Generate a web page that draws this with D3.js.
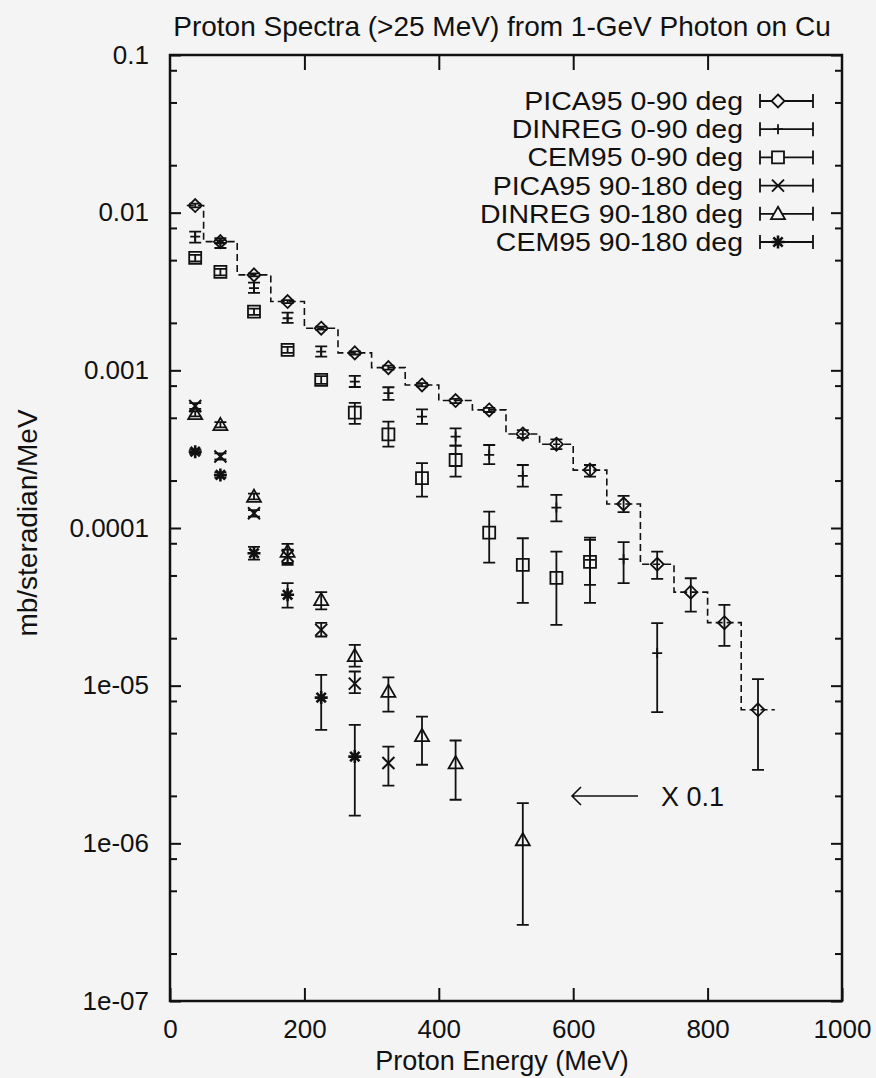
<!DOCTYPE html>
<html>
<head>
<meta charset="utf-8">
<script src="https://cdn.jsdelivr.net/npm/d3@7/dist/d3.min.js"></script>
<style>
    body { margin: 0; background: #f4f4f4; }
    svg { display: block; font-family: "Liberation Sans", Arial, sans-serif; }
</style>
</head>
<body>
<div id="chart"></div>
<script>
// bin centres and edges (MeV)
const energies = [37.5, 75, 125, 175, 225, 275, 325, 375, 425, 475, 525, 575, 625, 675, 725, 775, 825, 875];
const binEdges = [25, 50, 100, 150, 200, 250, 300, 350, 400, 450, 500, 550, 600, 650, 700, 750, 800, 850, 900];

// 0-90 deg
const pica0 = [0.0111, 0.00655, 0.00403, 0.00273, 0.00185, 0.00129, 0.00104, 0.000808, 0.000643, 0.000561, 0.000395, 0.000340, 0.000233, 0.000142, 5.89e-5, 3.92e-5, 2.51e-5, 7.03e-6];
const pica0Hi = [0.0114, 0.0067, 0.00412, 0.00279, 0.00189, 0.00132, 0.00107, 0.00083, 0.00066, 0.000578, 0.000418, 0.000365, 0.000251, 0.000160, 7.08e-5, 4.8e-5, 3.25e-5, 1.1e-5];
const pica0Lo = [0.0108, 0.0064, 0.00394, 0.00267, 0.00181, 0.00126, 0.00101, 0.00079, 0.00062, 0.000544, 0.000373, 0.000316, 0.000212, 0.000126, 4.75e-5, 2.95e-5, 1.79e-5, 2.92e-6];

const dinreg0 = [0.00705, 0.00642, 0.00332, 0.00214, 0.001314, 0.000848, 0.000716, 0.000509, 0.00038, 0.000291, 0.000214, 0.0001347, 6.28e-5, 6.34e-5, 1.61e-5];
const dinreg0Hi = [0.00758, 0.00689, 0.0036, 0.00232, 0.001418, 0.000922, 0.000781, 0.000565, 0.000429, 0.000336, 0.000251, 0.000162, 8.4e-5, 8.13e-5, 2.49e-5];
const dinreg0Lo = [0.00645, 0.00597, 0.0031, 0.002, 0.00122, 0.000784, 0.000649, 0.000458, 0.000333, 0.000254, 0.000183, 0.00011, 4.36e-5, 4.47e-5, 6.79e-6];

const cem0 = [0.00516, 0.00421, 0.002357, 0.001347, 0.000869, 0.00054, 0.000393, 0.000207, 0.00027, 9.35e-5, 5.83e-5, 4.83e-5, 6.1e-5];
const cem0Hi = [0.0054, 0.0044, 0.00246, 0.00141, 0.00092, 0.000621, 0.000473, 0.000258, 0.000333, 0.000127, 8.61e-5, 7.08e-5, 8.69e-5];
const cem0Lo = [0.0049, 0.0040, 0.00225, 0.00129, 0.00082, 0.000457, 0.000328, 0.000158, 0.000212, 6.03e-5, 3.35e-5, 2.43e-5, 3.35e-5];

// 90-180 deg, plotted x 0.1
const pica90 = [5.94e-4, 2.84e-4, 1.24e-4, 6.65e-5, 2.26e-5, 1.03e-5, 3.23e-6];
const pica90Hi = [6.2e-4, 2.97e-4, 1.3e-4, 7.3e-5, 2.5e-5, 1.23e-5, 4.11e-6];
const pica90Lo = [5.7e-4, 2.72e-4, 1.18e-4, 6.0e-5, 2.05e-5, 8.96e-6, 2.32e-6];

const dinreg90X = [37.5, 75, 125, 175, 225, 275, 325, 375, 425, 525];
const dinreg90 = [5.29e-4, 4.51e-4, 1.58e-4, 7.08e-5, 3.5e-5, 1.545e-5, 9.17e-6, 4.81e-6, 3.23e-6, 1.05e-6];
const dinreg90Hi = [5.5e-4, 4.7e-4, 1.65e-4, 7.93e-5, 3.92e-5, 1.815e-5, 1.13e-5, 6.37e-6, 4.49e-6, 1.8e-6];
const dinreg90Lo = [5.1e-4, 4.35e-4, 1.52e-4, 5.83e-5, 3.05e-5, 1.32e-5, 6.85e-6, 3.15e-6, 1.89e-6, 3.04e-7];

const cem90 = [3.05e-4, 2.17e-4, 6.92e-5, 3.77e-5, 8.4e-6, 3.55e-6];
const cem90Hi = [3.15e-4, 2.25e-4, 7.6e-5, 4.47e-5, 1.17e-5, 5.64e-6];
const cem90Lo = [2.95e-4, 2.09e-4, 6.3e-5, 3.13e-5, 5.24e-6, 1.5e-6];

const legendLabels = ["PICA95 0-90 deg", "DINREG 0-90 deg", "CEM95 0-90 deg", "PICA95 90-180 deg", "DINREG 90-180 deg", "CEM95 90-180 deg"];
const markers = ["diamond", "plus", "square", "cross", "triangle", "star"];

const xTicks = [0, 200, 400, 600, 800, 1000];
const yTicks = [0.1, 0.01, 0.001, 0.0001, 1e-5, 1e-6, 1e-7];
const yTickLabels = ["0.1", "0.01", "0.001", "0.0001", "1e-05", "1e-06", "1e-07"];

const W = 876, H = 1078;
const ink = "#111";

let series = [
    {x: energies, y: pica0, lo: pica0Lo, hi: pica0Hi},
    {x: energies, y: dinreg0, lo: dinreg0Lo, hi: dinreg0Hi},
    {x: energies, y: cem0, lo: cem0Lo, hi: cem0Hi},
    {x: energies, y: pica90, lo: pica90Lo, hi: pica90Hi},
    {x: dinreg90X, y: dinreg90, lo: dinreg90Lo, hi: dinreg90Hi},
    {x: energies, y: cem90, lo: cem90Lo, hi: cem90Hi}
].map(function(s){
    return s.y.map(function(v, j){
        return {x: s.x[j], y: v, lo: s.lo[j], hi: s.hi[j]};
    });
});

const x = d3.scaleLinear().domain([0, 1000]).range([170, 842]);
const y = d3.scaleLog().domain([1e-7, 0.1]).range([1001, 55]);

const markerPath = {
    diamond: s => `M0,${-s}L${s},0L0,${s}L${-s},0Z`,
    plus: s => `M${-s},0H${s}M0,${-s}V${s}`,
    square: s => `M${-s},${-s}H${s}V${s}H${-s}Z`,
    cross: s => `M${-s},${-s}L${s},${s}M${-s},${s}L${s},${-s}`,
    triangle: s => `M0,${-s}L${s},${s * 0.75}L${-s},${s * 0.75}Z`,
    star: s => `M${-s},0H${s}M0,${-s}V${s}M${-s * 0.72},${-s * 0.72}L${s * 0.72},${s * 0.72}M${-s * 0.72},${s * 0.72}L${s * 0.72},${-s * 0.72}`
};
const markerSize = {diamond: 6.5, plus: 5, square: 6, cross: 6, triangle: 7, star: 6.5};
const markerWidth = {diamond: 1.8, plus: 1.8, square: 1.8, cross: 2, triangle: 1.8, star: 2.6};

const svg = d3.select("#chart").append("svg")
    .attr("width", W)
    .attr("height", H);

svg.append("rect").attr("width", W).attr("height", H).attr("fill", "#f4f4f4");

// minor log ticks at 2, 5, 8 of every decade
let minorTicks = [];
yTicks.slice(1).forEach(function(d){
    [2, 5, 8].forEach(function(m){ minorTicks.push(d * m); });
});

function styleAxis(g, size){
    g.attr("font-family", "'Liberation Sans', Arial, sans-serif")
        .attr("font-size", size);
    g.select(".domain").remove();
    g.selectAll(".tick line").attr("stroke", ink).attr("stroke-width", 2);
    g.selectAll(".tick text").attr("fill", ink);
}

svg.append("g")
    .attr("transform", "translate(0," + y.range()[0] + ")")
    .call(d3.axisBottom(x).tickValues(xTicks).tickSizeInner(-13).tickSizeOuter(0).tickPadding(19).tickFormat(d3.format("d")))
    .call(styleAxis, 26);

svg.append("g")
    .attr("transform", "translate(0," + y.range()[1] + ")")
    .call(d3.axisTop(x).tickValues(xTicks.slice(1, -1)).tickSizeInner(-15).tickSizeOuter(0).tickFormat(""))
    .call(styleAxis, 26);

svg.append("g")
    .attr("transform", "translate(" + x.range()[0] + ",0)")
    .call(d3.axisLeft(y).tickValues(yTicks).tickSizeInner(-11).tickSizeOuter(0).tickPadding(21).tickFormat((d, i) => yTickLabels[i]))
    .call(styleAxis, 26);

svg.append("g")
    .attr("transform", "translate(" + x.range()[0] + ",0)")
    .call(d3.axisLeft(y).tickValues(minorTicks).tickSizeInner(-7).tickSizeOuter(0).tickFormat(""))
    .call(styleAxis, 26);

svg.append("g")
    .attr("transform", "translate(" + x.range()[1] + ",0)")
    .call(d3.axisRight(y).tickValues(yTicks).tickSizeInner(-11).tickSizeOuter(0).tickFormat(""))
    .call(styleAxis, 26);

svg.append("g")
    .attr("transform", "translate(" + x.range()[1] + ",0)")
    .call(d3.axisRight(y).tickValues(minorTicks).tickSizeInner(-7).tickSizeOuter(0).tickFormat(""))
    .call(styleAxis, 26);

// frame
svg.append("rect")
    .attr("x", x.range()[0])
    .attr("y", y.range()[1])
    .attr("width", x.range()[1] - x.range()[0])
    .attr("height", y.range()[0] - y.range()[1])
    .attr("fill", "none")
    .attr("stroke", ink)
    .attr("stroke-width", 2.5);

// dashed histogram of PICA95 0-90
let stepPts = [];
pica0.forEach(function(v, i){
    stepPts.push([binEdges[i], v]);
    stepPts.push([binEdges[i + 1], v]);
});
svg.append("path")
    .attr("d", d3.line().x(d => x(d[0])).y(d => y(d[1]))(stepPts))
    .attr("fill", "none")
    .attr("stroke", ink)
    .attr("stroke-width", 1.6)
    .attr("stroke-dasharray", "7,4");

const cap = 6;

series.forEach(function(pts, i){
    let g = svg.append("g");
    let m = markers[i];

    g.selectAll("path.err")
        .data(pts)
        .enter().append("path")
        .attr("class", "err")
        .attr("d", d => `M${x(d.x)},${y(d.hi)}V${y(d.lo)}M${x(d.x) - cap},${y(d.hi)}h${2 * cap}M${x(d.x) - cap},${y(d.lo)}h${2 * cap}`)
        .attr("fill", "none")
        .attr("stroke", ink)
        .attr("stroke-width", 1.8);

    g.selectAll("path.pt")
        .data(pts)
        .enter().append("path")
        .attr("class", "pt")
        .attr("transform", d => "translate(" + x(d.x) + "," + y(d.y) + ")")
        .attr("d", markerPath[m](markerSize[m]))
        .attr("fill", "none")
        .attr("stroke", ink)
        .attr("stroke-width", markerWidth[m]);
});

// legend: rows are packed tightly, so glyphs are widened instead of enlarged
let legend = svg.append("g").attr("transform", "translate(0,101)");
legendLabels.forEach(function(label, i){
    let row = legend.append("g").attr("transform", "translate(0," + (i * 28.2) + ")");
    let t = row.append("text")
        .attr("x", 743)
        .attr("y", 9)
        .attr("text-anchor", "end")
        .attr("font-size", 25)
        .attr("fill", ink)
        .text(label);
    let len = t.node().getComputedTextLength();
    t.attr("textLength", len * 1.14).attr("lengthAdjust", "spacingAndGlyphs");
    row.append("path")
        .attr("d", "M760,0H813M760,-7V7M813,-7V7")
        .attr("fill", "none")
        .attr("stroke", ink)
        .attr("stroke-width", 1.8);
    row.append("path")
        .attr("transform", "translate(778,0)")
        .attr("d", markerPath[markers[i]](markerSize[markers[i]]))
        .attr("fill", "#f4f4f4")
        .attr("stroke", ink)
        .attr("stroke-width", markerWidth[markers[i]]);
});

// scale-factor note
svg.append("path")
    .attr("d", "M638,796H572M581,787L572,796L581,805")
    .attr("fill", "none")
    .attr("stroke", ink)
    .attr("stroke-width", 1.6);
svg.append("text")
    .attr("x", 661)
    .attr("y", 806)
    .attr("font-size", 27)
    .attr("fill", ink)
    .text("X 0.1");

// titles
svg.append("text")
    .attr("x", 502)
    .attr("y", 36)
    .attr("text-anchor", "middle")
    .attr("font-size", 28)
    .attr("fill", ink)
    .text("Proton Spectra (>25 MeV) from 1-GeV Photon on Cu");

svg.append("text")
    .attr("x", 502)
    .attr("y", 1070)
    .attr("text-anchor", "middle")
    .attr("font-size", 27)
    .attr("fill", ink)
    .text("Proton Energy (MeV)");

svg.append("text")
    .attr("transform", "translate(37,523) rotate(-90)")
    .attr("text-anchor", "middle")
    .attr("font-size", 28)
    .attr("fill", ink)
    .text("mb/steradian/MeV");
</script>
</body>
</html>
